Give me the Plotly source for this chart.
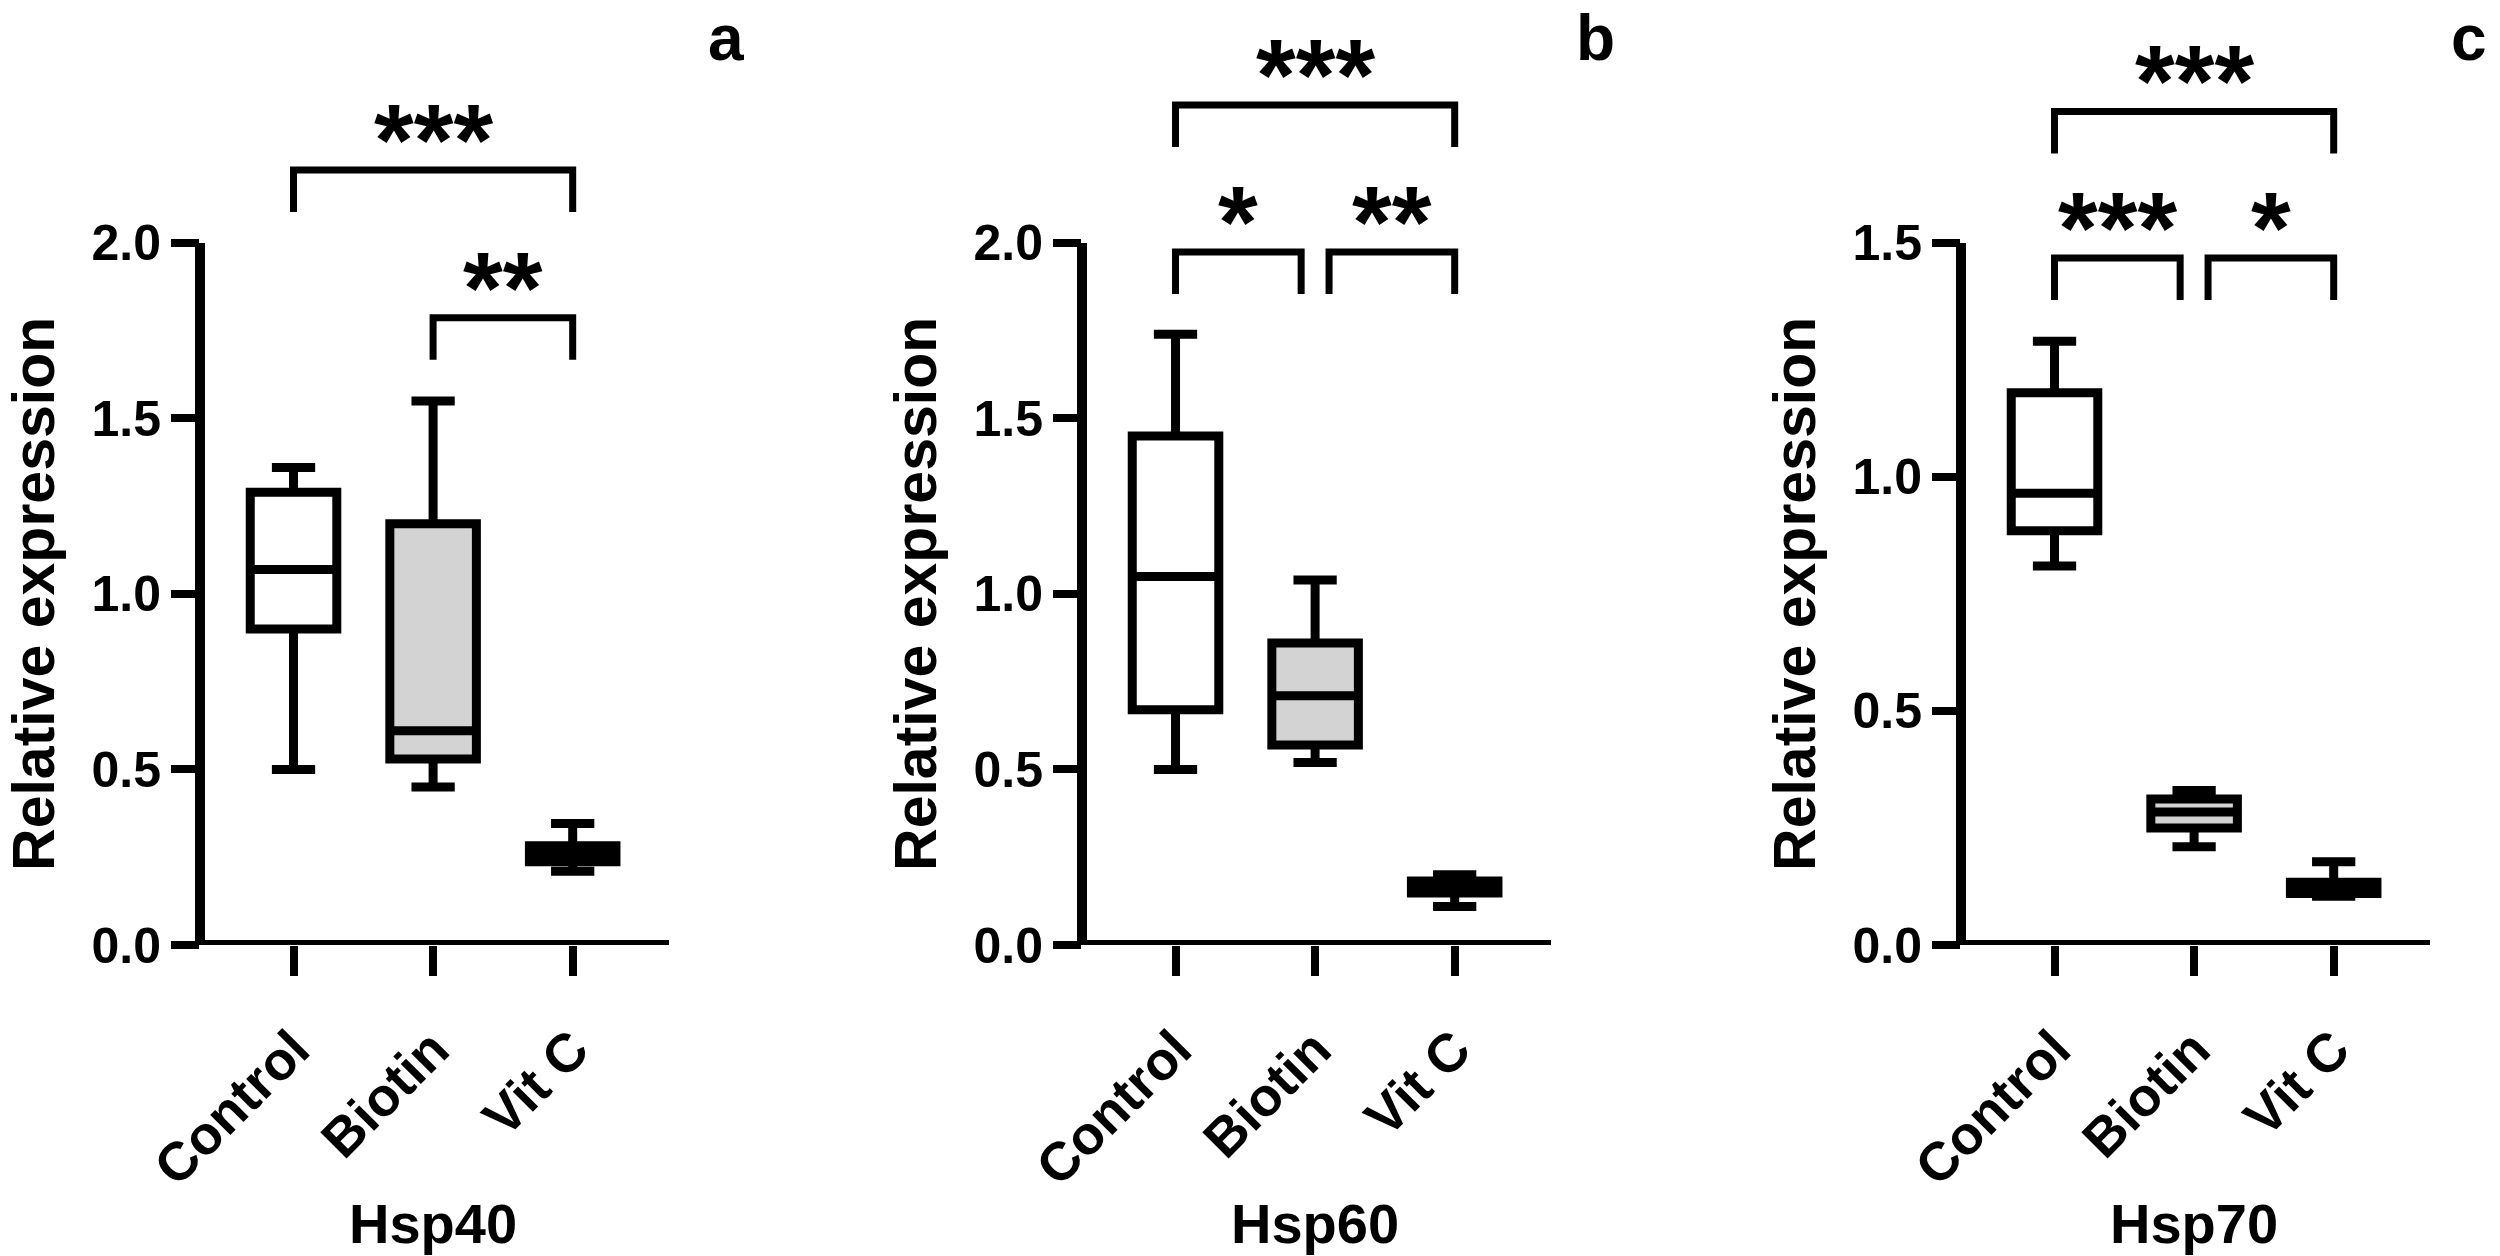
import plotly.graph_objects as go

# ---------------- data ----------------
groups = ["Control", "Biotin", "Vit C"]
genes = ["Hsp40", "Hsp60", "Hsp70"]
panel_letters = ["a", "b", "c"]

hsp40_low = [0.50, 0.45, 0.21]
hsp40_q1 = [0.90, 0.53, 0.237]
hsp40_med = [1.07, 0.61, 0.26]
hsp40_q3 = [1.29, 1.20, 0.283]
hsp40_high = [1.36, 1.55, 0.346]

hsp60_low = [0.50, 0.52, 0.11]
hsp60_q1 = [0.67, 0.57, 0.148]
hsp60_med = [1.05, 0.71, 0.165]
hsp60_q3 = [1.45, 0.86, 0.182]
hsp60_high = [1.74, 1.04, 0.20]

hsp70_low = [0.81, 0.21, 0.104]
hsp70_q1 = [0.885, 0.25, 0.11]
hsp70_med = [0.965, 0.284, 0.122]
hsp70_q3 = [1.18, 0.312, 0.134]
hsp70_high = [1.29, 0.33, 0.178]

hsp40_ticks = [0.0, 0.5, 1.0, 1.5, 2.0]
hsp60_ticks = [0.0, 0.5, 1.0, 1.5, 2.0]
hsp70_ticks = [0.0, 0.5, 1.0, 1.5]

# significance comparisons (left group, right group, label, bracket height)
hsp40_cmp_left = [0, 1]
hsp40_cmp_right = [2, 2]
hsp40_cmp_label = ["***", "**"]
hsp40_cmp_y = [2.208, 1.787]

hsp60_cmp_left = [0, 0, 1]
hsp60_cmp_right = [2, 1, 2]
hsp60_cmp_label = ["***", "*", "**"]
hsp60_cmp_y = [2.393, 1.974, 1.974]

hsp70_cmp_left = [0, 0, 1]
hsp70_cmp_right = [2, 1, 2]
hsp70_cmp_label = ["***", "***", "*"]
hsp70_cmp_y = [1.781, 1.468, 1.468]

# ---------------- style / layout ----------------
W, H = 2500, 1256
FONT = "Liberation Sans"
fills = ["white", "#d3d3d3", "white"]
x_domains = [[0.080, 0.2676], [0.4328, 0.6204], [0.7844, 0.9720]]
y_domain = [(H - 945) / H, 1.0]
x_range = [-0.67, 2.69]
y_tops = [2.692, 2.692, 2.019]
plot_h = 945.0
leg_px = 42

panels = [
    (hsp40_low, hsp40_q1, hsp40_med, hsp40_q3, hsp40_high, hsp40_ticks,
     hsp40_cmp_left, hsp40_cmp_right, hsp40_cmp_label, hsp40_cmp_y),
    (hsp60_low, hsp60_q1, hsp60_med, hsp60_q3, hsp60_high, hsp60_ticks,
     hsp60_cmp_left, hsp60_cmp_right, hsp60_cmp_label, hsp60_cmp_y),
    (hsp70_low, hsp70_q1, hsp70_med, hsp70_q3, hsp70_high, hsp70_ticks,
     hsp70_cmp_left, hsp70_cmp_right, hsp70_cmp_label, hsp70_cmp_y),
]

fig = go.Figure()
shapes = []
annotations = []
layout_axes = {}

for p, (low, q1, med, q3, high, ticks, cl, cr, lab, cy) in enumerate(panels):
    sfx = "" if p == 0 else str(p + 1)
    xref, yref = "x" + sfx, "y" + sfx
    for i, g in enumerate(groups):
        fig.add_trace(go.Box(
            x=[i], q1=[q1[i]], median=[med[i]], q3=[q3[i]],
            lowerfence=[low[i]], upperfence=[high[i]],
            name=g, width=0.62, whiskerwidth=0.5, boxpoints=False,
            fillcolor=fills[i], line=dict(color="black", width=9),
            xaxis=xref, yaxis=yref, showlegend=False, hoverinfo="skip",
        ))

    layout_axes["xaxis" + sfx] = dict(
        domain=x_domains[p], anchor=yref, range=x_range, automargin=False,
        tickmode="array", tickvals=list(range(len(groups))), ticktext=groups,
        tickangle=-45, ticks="outside", ticklen=30, tickwidth=8, tickcolor="black",
        ticklabelstandoff=20,
        tickfont=dict(family=FONT, size=54, color="black", weight="bold"),
        showgrid=False, zeroline=False, showline=False, fixedrange=True,
    )
    layout_axes["yaxis" + sfx] = dict(
        domain=y_domain, anchor=xref, range=[0, y_tops[p]], automargin=False,
        tickmode="array", tickvals=ticks, ticktext=[f"{t:.1f}" for t in ticks],
        ticks="outside", ticklen=28, tickwidth=8, tickcolor="black",
        tickfont=dict(family=FONT, size=50, color="black", weight="bold"),
        showgrid=False, zeroline=False, showline=False, fixedrange=True,
    )

    # axis lines
    shapes.append(dict(type="line", xref=xref + " domain", yref=yref,
                       x0=0, x1=0, y0=-0.012 * y_tops[p] / 2.692, y1=ticks[-1],
                       line=dict(color="black", width=10)))
    shapes.append(dict(type="line", xref=xref + " domain", yref=yref,
                       x0=0, x1=1, y0=0, y1=0,
                       line=dict(color="black", width=10)))

    # brackets
    du_per_px = y_tops[p] / plot_h
    leg = leg_px * du_per_px
    for k in range(len(cl)):
        a, b = float(cl[k]), float(cr[k])
        for m in range(len(cl)):
            if m != k and abs(cy[m] - cy[k]) < 1e-9:
                if cr[m] == cl[k]:
                    a += 0.1
                if cl[m] == cr[k]:
                    b -= 0.1
        y = cy[k]
        shapes.append(dict(type="path", xref=xref, yref=yref,
                           path=f"M {a},{y - leg} L {a},{y} L {b},{y} L {b},{y - leg}",
                           line=dict(color="black", width=7)))
        annotations.append(dict(xref=xref, yref=yref, x=(a + b) / 2, y=y,
                                text=lab[k], showarrow=False,
                                yanchor="middle", yshift=30,
                                font=dict(family=FONT, size=102, color="black", weight="bold")))

    # y title
    mid_y = y_domain[0] + (ticks[-1] / y_tops[p]) * (y_domain[1] - y_domain[0]) / 2
    annotations.append(dict(xref="paper", yref="paper",
                            x=x_domains[p][0] - 166 / W, y=mid_y, borderpad=0,
                            text="Relative expression", textangle=-90, showarrow=False,
                            xanchor="center", yanchor="middle",
                            font=dict(family=FONT, size=59, color="black", weight="bold")))
    # x title (gene)
    annotations.append(dict(xref=xref, yref="paper", x=1, y=0, borderpad=0,
                            text=genes[p], showarrow=False,
                            xanchor="center", yanchor="bottom",
                            font=dict(family=FONT, size=56, color="black", weight="bold")))
    # panel letter
    annotations.append(dict(xref=xref + " domain", yref="paper", x=1, xshift=[57, 45, 39][p],
                            y=1 - 38 / H, text=panel_letters[p], showarrow=False,
                            xanchor="center", yanchor="middle",
                            font=dict(family=FONT, size=64, color="black", weight="bold")))

fig.update_layout(
    width=W, height=H, margin=dict(l=0, r=0, t=0, b=0, autoexpand=False),
    paper_bgcolor="white", plot_bgcolor="white",
    boxmode="overlay", showlegend=False,
    shapes=shapes, annotations=annotations,
    **layout_axes,
)

fig.write_html("out.html")
